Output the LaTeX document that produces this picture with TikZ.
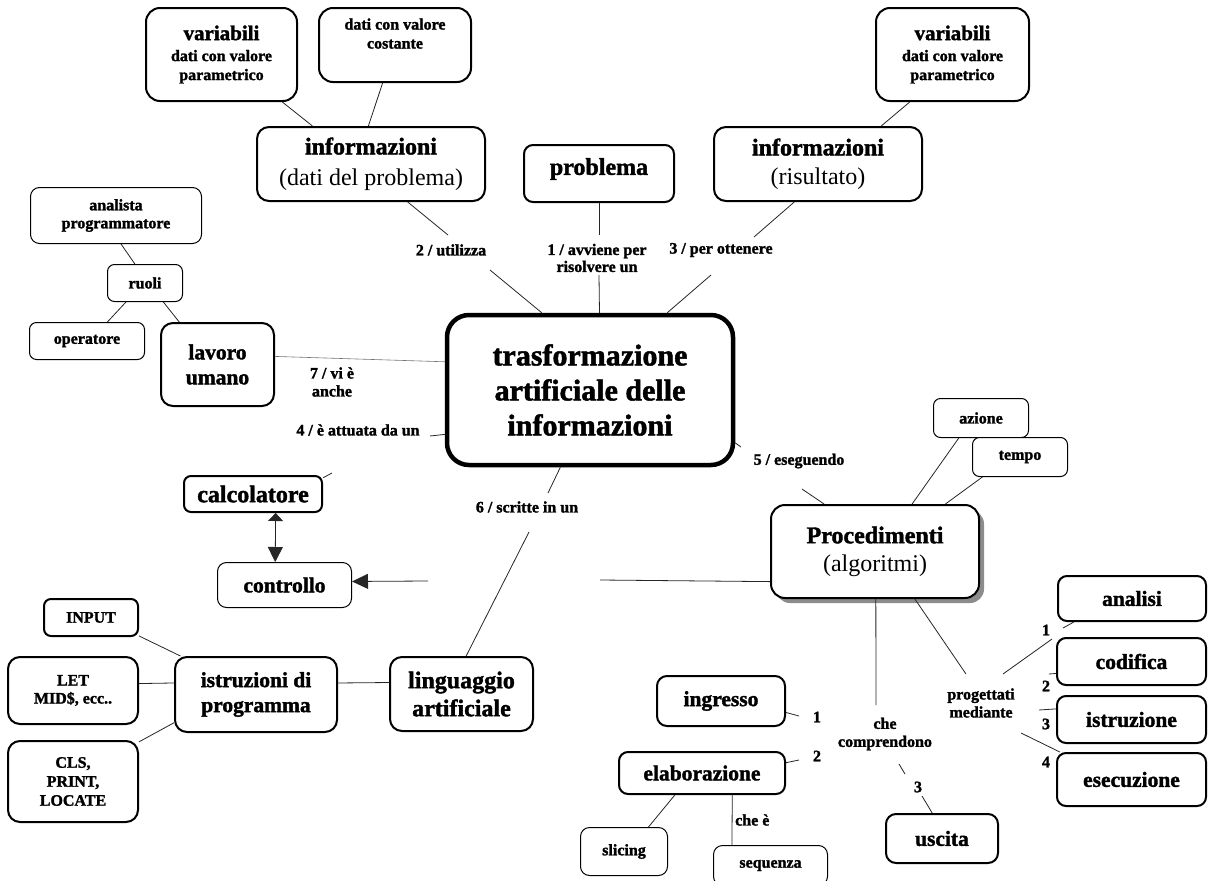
\documentclass[tikz,border=0pt]{standalone}
\usepackage{fontspec}
\setmainfont{Liberation Serif}[BoldFeatures={FakeBold=1.6}]
\usetikzlibrary{arrows.meta,shadows}

\newcommand\fntTitle{\fontsize{30}{35}\selectfont\bfseries}
\newcommand\fntBig{\fontsize{24}{28}\selectfont\bfseries}
\newcommand\fntMid{\fontsize{21.5}{25}\selectfont\bfseries}
\newcommand\fntSmall{\fontsize{16}{19}\selectfont\bfseries}
\newcommand\fntLbl{\fontsize{16}{18}\selectfont\bfseries}

\begin{document}
\begin{tikzpicture}[x=1pt,y=-1pt,
  box/.style={draw=black, fill=white, rounded corners=9pt, line width=2pt, align=center, inner sep=0pt},
  thinbox/.style={box, line width=1pt, rounded corners=7pt},
  conn/.style={line width=0.8pt, draw=black!85},
  lbl/.style={font=\fntLbl, align=center, inner sep=0pt},
]
\useasboundingbox (0,0) rectangle (1208,881);

% ---------- concepts ----------
\node[box, minimum width=151pt, minimum height=93pt, rounded corners=14pt, font=\fntSmall] (varTL) at (221.5,54.5)
  {{\fontsize{21}{22}\selectfont variabili}\\[2pt]dati con valore\\parametrico};
\node[box, minimum width=152pt, minimum height=74pt, rounded corners=14pt, font=\fntSmall] (const) at (395,45)
  {dati con valore\\costante\\[4pt]\mbox{}};
\node[box, minimum width=228pt, minimum height=74pt, rounded corners=12pt, font=\fntBig] (infoDP) at (371,164)
  {informazioni\\[3pt]\mdseries(dati del problema)};
\node[box, minimum width=150pt, minimum height=57pt, font=\fntBig] (problema) at (599,173.5) {problema\\[-14pt]\mbox{}};
\node[box, minimum width=208pt, minimum height=74pt, rounded corners=12pt, font=\fntBig] (infoRis) at (818,164)
  {informazioni\\[1pt]\mdseries(risultato)};
\node[box, minimum width=153pt, minimum height=93pt, rounded corners=14pt, font=\fntSmall] (varTR) at (952.5,54.5)
  {{\fontsize{21}{22}\selectfont variabili}\\[2pt]dati con valore\\parametrico};

\node[thinbox, minimum width=171pt, minimum height=56pt, rounded corners=9pt, font=\fntSmall] (analista) at (116,215.5)
  {analista\\[-1pt]programmatore};
\node[thinbox, minimum width=75pt, minimum height=37pt, font=\fntSmall] (ruoli) at (145,283) {ruoli};
\node[thinbox, minimum width=115pt, minimum height=37pt, font=\fntSmall] (operatore) at (87,341) {operatore};
\node[box, minimum width=113pt, minimum height=83pt, rounded corners=12pt, font=\fntMid] (lavoro) at (217.5,364.5)
  {lavoro\\umano};

\node[box, line width=4.5pt, minimum width=286pt, minimum height=150pt, rounded corners=22pt, font=\fntTitle] (centro) at (590,390)
  {trasformazione\\artificiale delle\\informazioni};

\node[box, minimum width=138pt, minimum height=36pt, rounded corners=7pt, font=\fntBig] (calc) at (253,494) {calcolatore};
\node[thinbox, minimum width=134pt, minimum height=45pt, rounded corners=9pt, font=\fntMid] (controllo) at (284.5,585) {controllo};

\node[box, minimum width=94pt, minimum height=37pt, rounded corners=7pt, font=\fntSmall] (input) at (91,617.5) {INPUT};
\node[box, minimum width=130pt, minimum height=67pt, rounded corners=12pt, font=\fntSmall] (let) at (73,690.5) {LET\\[-1pt]MID\$, ecc..};
\node[box, minimum width=130pt, minimum height=81pt, rounded corners=12pt, font=\fntSmall] (cls) at (73,781.5) {CLS,\\PRINT,\\LOCATE};
\node[box, minimum width=162pt, minimum height=75pt, rounded corners=12pt, font=\fntMid] (istr) at (256,694.5) {istruzioni di\\programma};
\node[box, minimum width=143pt, minimum height=74pt, rounded corners=12pt, font=\fntBig] (ling) at (461.5,694) {linguaggio\\artificiale};

\node[box, minimum width=208pt, minimum height=93pt, rounded corners=14pt, font=\fntBig,
      drop shadow={shadow xshift=5pt, shadow yshift=-5pt, fill=black!45, opacity=1}] (proc) at (875,551.5)
  {Procedimenti\\\mdseries(algoritmi)};
\node[thinbox, minimum width=95pt, minimum height=39pt, font=\fntSmall] (azione) at (981,418) {azione};
\node[thinbox, minimum width=95pt, minimum height=39pt, font=\fntSmall] (tempo) at (1020,457) {tempo};

\node[box, minimum width=148pt, minimum height=45pt, rounded corners=9pt, font=\fntMid] (analisi) at (1132,598.5) {analisi};
\node[box, minimum width=149pt, minimum height=47pt, rounded corners=9pt, font=\fntMid] (codifica) at (1131.5,661.5) {codifica};
\node[box, minimum width=149pt, minimum height=47pt, rounded corners=9pt, font=\fntMid] (istruz) at (1131.5,719.5) {istruzione};
\node[box, minimum width=149pt, minimum height=53pt, rounded corners=9pt, font=\fntMid] (esec) at (1131.5,779.5) {esecuzione};

\node[box, minimum width=128pt, minimum height=50pt, rounded corners=10pt, font=\fntMid] (ingresso) at (721,701) {ingresso};
\node[box, minimum width=166pt, minimum height=42pt, rounded corners=9pt, font=\fntMid] (elab) at (702,773) {elaborazione};
\node[box, minimum width=112pt, minimum height=49pt, rounded corners=10pt, font=\fntMid] (uscita) at (942,838.5) {uscita};
\node[thinbox, minimum width=87pt, minimum height=48pt, rounded corners=9pt, font=\fntSmall] (slicing) at (624,851.5) {slicing};
\node[thinbox, minimum width=114pt, minimum height=40pt, rounded corners=9pt, font=\fntSmall] (sequenza) at (770.5,865.5) {sequenza};

% ---------- linking phrases ----------
\node[lbl] (l2) at (451,250) {2 / utilizza};
\node[lbl, font=\fontsize{16}{17}\selectfont\bfseries] (l1) at (597,258) {1 / avviene per\\risolvere un};
\node[lbl] (l3) at (721,250) {3 / per ottenere};
\node[lbl] (l7) at (332,382) {7 / vi è\\anche};
\node[lbl] (l4) at (358,430) {4 / è attuata da un};
\node[lbl] (l5) at (799,461) {5 / eseguendo};
\node[lbl] (l6) at (527,507) {6 / scritte in un};
\node[lbl] (lcomp) at (885,734) {che\\comprendono};
\node[lbl] (lprog) at (981,703) {progettati\\mediante};
\node[lbl, anchor=west] (lche) at (735,820) {che è};
\node[lbl] (n1) at (817,717) {1};
\node[lbl] (n2) at (817,756) {2};
\node[lbl] (n3) at (918,787) {3};
\node[lbl] (p1) at (1046,630) {1};
\node[lbl] (p2) at (1046,686) {2};
\node[lbl] (p3) at (1046,724) {3};
\node[lbl] (p4) at (1046,762) {4};

% ---------- free ends of the links ----------
\coordinate (c2a) at (448,235);  \coordinate (c2b) at (490,270);
\coordinate (c1a) at (599,235);  \coordinate (c1b) at (599,275);
\coordinate (c3a) at (754,237);  \coordinate (c3b) at (711,275);
\coordinate (c4a) at (430,436);  \coordinate (c4b) at (332,473);
\coordinate (c5a) at (741,447);  \coordinate (c5b) at (802,489);
\coordinate (c6a) at (548,493);  \coordinate (c6b) at (529,532);
\coordinate (c8a) at (600,580);  \coordinate (c8b) at (428,581);
\coordinate (c9a) at (876,705);
\coordinate (c9i) at (799,716);  \coordinate (c9e) at (799,760);
\coordinate (c9s1) at (899,764); \coordinate (c9s2) at (905,774);
\coordinate (c9u) at (922,796);
\coordinate (c10a) at (966,674);
\coordinate (c11a) at (1003,674); \coordinate (c11b) at (1052,639);
\coordinate (c11c) at (1063,628);
\coordinate (c12) at (1049,674);
\coordinate (c13) at (1039,710);
\coordinate (c14) at (1021,733);

% ---------- connectors ----------
\draw[conn] (varTL.-38) -- (infoDP.147);
\draw[conn] (const.-108) -- (infoDP.94);
\draw[conn] (infoDP.-46.5) -- (c2a);
\draw[conn] (c2b) -- (centro.122);
\draw[conn] (problema.south) -- (c1a);
\draw[conn] (c1b) -- (centro.83.3);
\draw[conn] (infoRis.-122.7) -- (c3a);
\draw[conn] (c3b) -- (centro.45);
\draw[conn] (varTR.-132.5) -- (infoRis.31);

\draw[conn] (analista.-80) -- (ruoli.118);
\draw[conn] (ruoli.-135) -- (operatore.43.5);
\draw[conn] (ruoli.-46.5) -- (lavoro.132);
\draw[line width=0.6pt, black!55] (lavoro.8.3) -- (centro.169.5);

\draw[conn] (centro.-163.8) -- (c4a);
\draw[conn] (c4b) -- (calc.13.7);
\draw[conn] (centro.-111) -- (c6a);
\draw[conn] (c6b) -- (ling.83.4);
\draw[conn] (centro.-20) -- (c5a);
\draw[conn] (c5b) -- (proc.137);

\draw[conn] (proc.-164.8) -- (c8a);
\draw[conn, -{Triangle[length=16pt,width=15pt]}] (c8b) -- (controllo.3.4);
\draw[conn, {Triangle[length=8pt,width=15pt]}-{Triangle[length=15pt,width=15pt]}] (calc.-40.8) -- (controllo.112.4);

\draw[conn] (input.-21.5) -- (istr.153);
\draw[conn] (let.6.5) -- (istr.172);
\draw[conn] (cls.31) -- (istr.-161.7);
\draw[conn] (istr.8) -- (ling.171.4);

\draw[conn] (azione.-138.8) -- (proc.52.7);
\draw[conn] (tempo.-152.9) -- (proc.34.7);

\draw[conn] (proc.-89) -- (c9a);
\draw[conn] (ingresso.-10.5) -- (c9i);
\draw[conn] (elab.7.5) -- (c9e);
\draw[conn] (c9s1) -- (c9s2);
\draw[conn] (c9u) -- (uscita.111.4);
\draw[conn] (elab.-141.3) -- (slicing.45.6);
\draw[conn] (elab.-36.3) -- (sequenza.152);

\draw[conn] (proc.-50.6) -- (c10a);
\draw[conn] (c11a) -- (c11b);
\draw[conn] (c11c) -- (analisi.-158.4);
\draw[conn] (c12) -- (codifica.-171.9);
\draw[conn] (c13) -- (istruz.172.8);
\draw[conn] (c14) -- (esec.159);
\end{tikzpicture}
\end{document}
